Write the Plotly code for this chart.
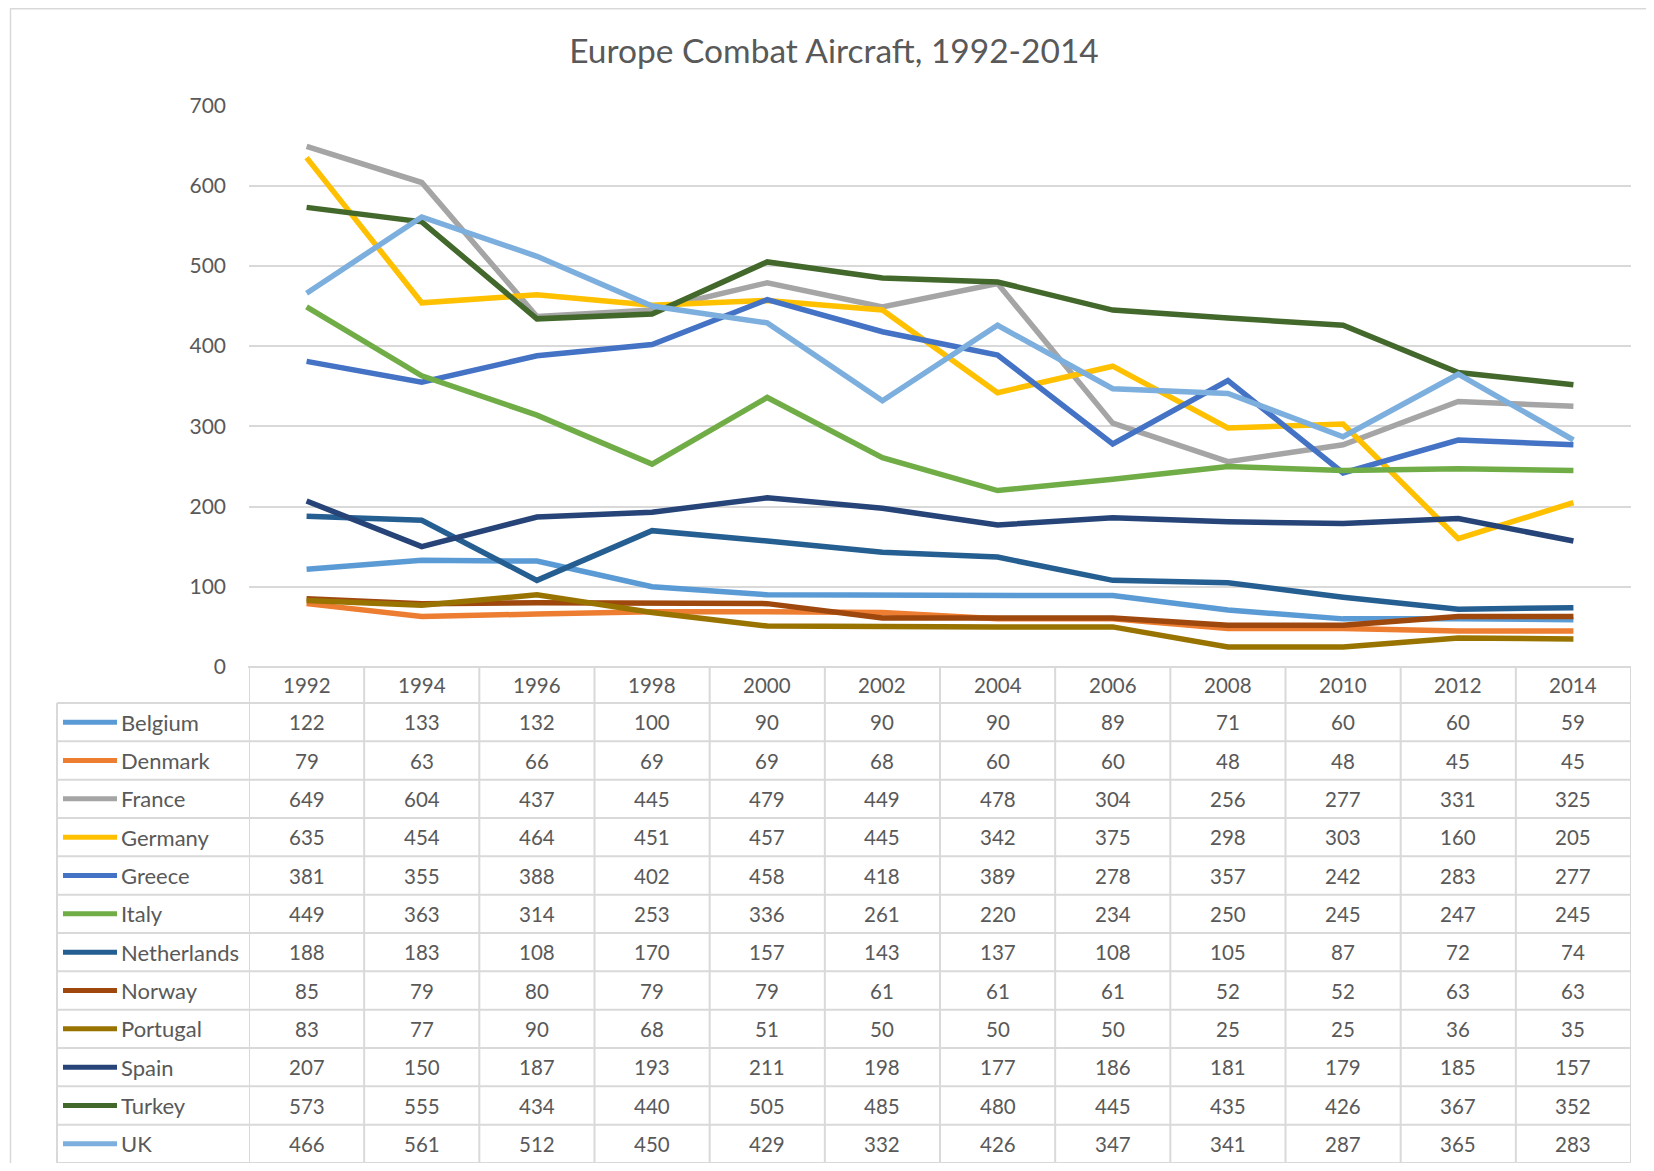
import plotly.graph_objects as go

# page body has an 8px margin; size the figure so the page is exactly the window
OFF = 8
W, H = 1654 - 2 * OFF, 1171 - 2 * OFF

years = ["1992", "1994", "1996", "1998", "2000", "2002", "2004", "2006", "2008", "2010", "2012", "2014"]
countries = ["Belgium", "Denmark", "France", "Germany", "Greece", "Italy",
             "Netherlands", "Norway", "Portugal", "Spain", "Turkey", "UK"]

belgium = [122, 133, 132, 100, 90, 90, 90, 89, 71, 60, 60, 59]
denmark = [79, 63, 66, 69, 69, 68, 60, 60, 48, 48, 45, 45]
france = [649, 604, 437, 445, 479, 449, 478, 304, 256, 277, 331, 325]
germany = [635, 454, 464, 451, 457, 445, 342, 375, 298, 303, 160, 205]
greece = [381, 355, 388, 402, 458, 418, 389, 278, 357, 242, 283, 277]
italy = [449, 363, 314, 253, 336, 261, 220, 234, 250, 245, 247, 245]
netherlands = [188, 183, 108, 170, 157, 143, 137, 108, 105, 87, 72, 74]
norway = [85, 79, 80, 79, 79, 61, 61, 61, 52, 52, 63, 63]
portugal = [83, 77, 90, 68, 51, 50, 50, 50, 25, 25, 36, 35]
spain = [207, 150, 187, 193, 211, 198, 177, 186, 181, 179, 185, 157]
turkey = [573, 555, 434, 440, 505, 485, 480, 445, 435, 426, 367, 352]
uk = [466, 561, 512, 450, 429, 332, 426, 347, 341, 287, 365, 283]

series = [belgium, denmark, france, germany, greece, italy,
          netherlands, norway, portugal, spain, turkey, uk]

colors = ["#5B9BD5", "#ED7D31", "#A5A5A5", "#FFC000", "#4472C4", "#70AD47",
          "#255E91", "#9E480E", "#997300", "#264478", "#43682B", "#7CAFDD"]

yticks = [0, 100, 200, 300, 400, 500, 600, 700]

FONT = "Lato"
TXT = "#595959"
GRID = "#D9D9D9"

# pixel layout (window coordinates)
plot_l, plot_r = 249, 1631
plot_t, plot_b = 105.5, 667
tab_l = 57
tab_b = 1163
hdr_b = 703
row_h = (tab_b - hdr_b) / len(countries)


def px(x):
    return (x - OFF) / W


def py(y):
    return 1 - (y - OFF) / H


fig = go.Figure()
xs = list(range(len(years)))
for name, vals, col in zip(countries, series, colors):
    fig.add_trace(go.Scatter(x=xs, y=vals, mode="lines", name=name,
                             line=dict(color=col, width=5.5),
                             showlegend=False))

shapes = []
annotations = []

# chart border
shapes.append(dict(type="rect", xref="paper", yref="paper",
                   x0=px(10.5), x1=1.05, y0=-0.05, y1=py(8.8),
                   line=dict(color=GRID, width=1.5), layer="below"))

# table: horizontal lines
shapes.append(dict(type="line", xref="paper", yref="paper",
                   x0=px(plot_l - 1), x1=px(plot_r), y0=py(plot_b), y1=py(plot_b),
                   line=dict(color=GRID, width=2)))
for k in range(len(countries) + 1):
    y = hdr_b + k * row_h
    shapes.append(dict(type="line", xref="paper", yref="paper",
                       x0=px(tab_l), x1=px(plot_r), y0=py(y), y1=py(y),
                       line=dict(color=GRID, width=2)))
# vertical lines
shapes.append(dict(type="line", xref="paper", yref="paper",
                   x0=px(tab_l), x1=px(tab_l), y0=py(hdr_b), y1=py(tab_b),
                   line=dict(color=GRID, width=2)))
for i in range(len(years) + 1):
    shapes.append(dict(type="line", xref="x", yref="paper",
                       x0=i - 0.5, x1=i - 0.5, y0=py(plot_b), y1=py(tab_b),
                       line=dict(color=GRID, width=2)))

# header years
for i, yr in enumerate(years):
    annotations.append(dict(x=i, y=py((plot_b + hdr_b) / 2), xref="x", yref="paper",
                            text=yr, showarrow=False, xanchor="center", yanchor="middle",
                            font=dict(family=FONT, size=20.5, color=TXT)))

# rows
for k, (name, vals, col) in enumerate(zip(countries, series, colors)):
    yc = hdr_b + (k + 0.5) * row_h
    shapes.append(dict(type="line", xref="paper", yref="paper",
                       x0=px(63), x1=px(117), y0=py(yc), y1=py(yc),
                       line=dict(color=col, width=5)))
    annotations.append(dict(x=px(119), y=py(yc), xref="paper", yref="paper",
                            text=name, showarrow=False, xanchor="left", yanchor="middle",
                            font=dict(family=FONT, size=22, color=TXT)))
    for i, v in enumerate(vals):
        annotations.append(dict(x=i, y=py(yc), xref="x", yref="paper",
                                text=str(v), showarrow=False, xanchor="center",
                                yanchor="middle",
                                font=dict(family=FONT, size=20.5, color=TXT)))

fig.update_layout(
    width=W, height=H,
    margin=dict(l=0, r=0, t=0, b=0, pad=0, autoexpand=False),
    paper_bgcolor="white", plot_bgcolor="white",
    title=dict(text="Europe Combat Aircraft, 1992-2014",
               x=px(834), xanchor="center", y=py(51), yanchor="middle",
               font=dict(family=FONT, size=33.5, color=TXT), automargin=False),
    xaxis=dict(domain=[px(plot_l), px(plot_r)], range=[-0.5, len(years) - 0.5],
               showticklabels=False, showgrid=False, zeroline=False,
               showline=False, fixedrange=True, automargin=False),
    yaxis=dict(domain=[py(plot_b), py(plot_t)], range=[0, 700],
               tickvals=yticks, ticktext=[str(t) for t in yticks],
               showgrid=True, gridcolor=GRID, gridwidth=1.5,
               zeroline=False, showline=False, automargin=False,
               tickfont=dict(family=FONT, size=21, color=TXT),
               ticklabelstandoff=22),
    shapes=shapes,
    annotations=annotations,
)

fig.write_html("out.html")
